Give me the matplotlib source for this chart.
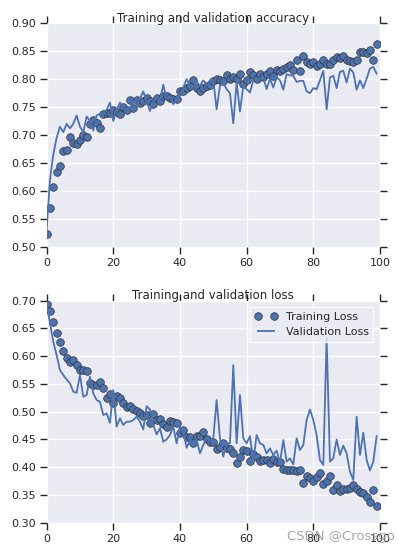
import matplotlib
matplotlib.use('Agg')
import matplotlib.pyplot as plt

# 数据: 每个 epoch 的训练/验证准确率和损失
epochs = list(range(100))

acc = [0.522, 0.570, 0.606, 0.633, 0.644, 0.671, 0.674, 0.697, 0.685, 0.684,
       0.691, 0.700, 0.696, 0.719, 0.727, 0.721, 0.712, 0.738, 0.739, 0.739,
       0.745, 0.742, 0.737, 0.751, 0.745, 0.763, 0.749, 0.763, 0.757, 0.761,
       0.767, 0.760, 0.756, 0.766, 0.760, 0.769, 0.770, 0.766, 0.764, 0.764,
       0.778, 0.778, 0.785, 0.788, 0.798, 0.785, 0.778, 0.784, 0.788, 0.790,
       0.797, 0.801, 0.798, 0.797, 0.807, 0.801, 0.804, 0.800, 0.809, 0.792,
       0.798, 0.812, 0.807, 0.801, 0.809, 0.803, 0.809, 0.815, 0.806, 0.816,
       0.815, 0.819, 0.822, 0.825, 0.816, 0.834, 0.815, 0.841, 0.831, 0.827,
       0.831, 0.824, 0.827, 0.834, 0.827, 0.827, 0.834, 0.839, 0.837, 0.841,
       0.834, 0.833, 0.831, 0.835, 0.848, 0.849, 0.846, 0.852, 0.835, 0.863]

val_acc = [0.530, 0.620, 0.665, 0.695, 0.715, 0.705, 0.720, 0.712, 0.720, 0.735,
           0.715, 0.705, 0.733, 0.725, 0.708, 0.735, 0.738, 0.738, 0.745, 0.758,
           0.725, 0.745, 0.758, 0.750, 0.745, 0.748, 0.760, 0.755, 0.765, 0.778,
           0.760, 0.743, 0.760, 0.768, 0.762, 0.790, 0.765, 0.770, 0.755, 0.765,
           0.772, 0.785, 0.800, 0.790, 0.785, 0.795, 0.788, 0.798, 0.790, 0.798,
           0.798, 0.746, 0.788, 0.794, 0.782, 0.775, 0.721, 0.794, 0.742, 0.788,
           0.782, 0.776, 0.798, 0.801, 0.801, 0.803, 0.782, 0.801, 0.785, 0.803,
           0.798, 0.781, 0.809, 0.807, 0.806, 0.795, 0.797, 0.797, 0.778, 0.775,
           0.784, 0.782, 0.798, 0.815, 0.746, 0.803, 0.806, 0.784, 0.813, 0.815,
           0.794, 0.819, 0.812, 0.781, 0.798, 0.784, 0.801, 0.819, 0.822, 0.810]

loss = [0.694, 0.682, 0.662, 0.641, 0.625, 0.609, 0.596, 0.589, 0.594, 0.584,
        0.576, 0.576, 0.573, 0.552, 0.548, 0.548, 0.554, 0.542, 0.524, 0.531,
        0.515, 0.529, 0.524, 0.515, 0.508, 0.510, 0.504, 0.502, 0.498, 0.492,
        0.494, 0.479, 0.495, 0.485, 0.486, 0.478, 0.473, 0.483, 0.482, 0.479,
        0.462, 0.467, 0.455, 0.455, 0.443, 0.456, 0.456, 0.463, 0.450, 0.446,
        0.445, 0.432, 0.437, 0.443, 0.434, 0.432, 0.426, 0.408, 0.418, 0.431,
        0.429, 0.411, 0.424, 0.419, 0.411, 0.413, 0.413, 0.407, 0.414, 0.409,
        0.409, 0.396, 0.395, 0.395, 0.395, 0.393, 0.395, 0.371, 0.384, 0.380,
        0.375, 0.383, 0.390, 0.370, 0.376, 0.384, 0.359, 0.368, 0.358, 0.360,
        0.360, 0.362, 0.368, 0.360, 0.356, 0.354, 0.347, 0.338, 0.359, 0.330]

val_loss = [0.695, 0.659, 0.626, 0.602, 0.575, 0.566, 0.558, 0.551, 0.536, 0.534,
            0.566, 0.527, 0.530, 0.563, 0.533, 0.521, 0.518, 0.494, 0.497, 0.480,
            0.539, 0.473, 0.488, 0.476, 0.482, 0.482, 0.485, 0.491, 0.482, 0.468,
            0.510, 0.504, 0.476, 0.459, 0.470, 0.446, 0.450, 0.458, 0.473, 0.443,
            0.473, 0.464, 0.435, 0.449, 0.446, 0.450, 0.425, 0.440, 0.452, 0.449,
            0.452, 0.521, 0.452, 0.419, 0.443, 0.443, 0.584, 0.443, 0.530, 0.452,
            0.443, 0.456, 0.410, 0.458, 0.443, 0.440, 0.425, 0.434, 0.422, 0.430,
            0.408, 0.449, 0.410, 0.416, 0.405, 0.452, 0.431, 0.440, 0.485, 0.504,
            0.485, 0.458, 0.413, 0.404, 0.632, 0.410, 0.416, 0.450, 0.422, 0.439,
            0.425, 0.392, 0.377, 0.491, 0.422, 0.462, 0.413, 0.394, 0.410, 0.456]

acc_ticks = [0.50, 0.55, 0.60, 0.65, 0.70, 0.75, 0.80, 0.85, 0.90]
loss_ticks = [0.30, 0.35, 0.40, 0.45, 0.50, 0.55, 0.60, 0.65, 0.70]
x_ticks = [0, 20, 40, 60, 80, 100]

BLUE = '#4C72B0'
BG = '#EAEAF2'
DARK = '#262626'


# 老版 seaborn darkgrid 的样子
def style_axes(ax, yticks):
    ax.set_facecolor(BG)
    for s in ax.spines.values():
        s.set_visible(False)
    ax.grid(True, color='white', linewidth=1.0)
    ax.set_axisbelow(True)
    ax.set_xlim(0, 100)
    ax.set_xticks(x_ticks)
    ax.set_ylim(yticks[0], yticks[-1])
    ax.set_yticks(yticks)
    ax.set_yticklabels(['%.2f' % t for t in yticks])
    ax.tick_params(direction='out', length=5, width=1, color=DARK,
                   labelcolor=DARK, labelsize=8, top=True, right=True,
                   pad=3)


fig = plt.figure(figsize=(4.09, 5.55), dpi=100)

ax1 = fig.add_axes([0.114, 0.5555, 0.815, 0.4025])
style_axes(ax1, acc_ticks)
ax1.plot(epochs, acc, 'o', color=BLUE, markersize=5.5, markeredgecolor='#333333',
         markeredgewidth=0.5, label='Training acc')
ax1.plot(epochs, val_acc, '-', color=BLUE, linewidth=1.3, label='Validation acc')
ax1.set_title('Training and validation accuracy', fontsize=8.5, color=DARK, pad=1)

ax2 = fig.add_axes([0.114, 0.0582, 0.815, 0.4])
style_axes(ax2, loss_ticks)
ax2.plot(epochs, loss, 'o', color=BLUE, markersize=5.5, markeredgecolor='#333333',
         markeredgewidth=0.5, label='Training Loss')
ax2.plot(epochs, val_loss, '-', color=BLUE, linewidth=1.3, label='Validation Loss')
ax2.set_title('Training and validation loss', fontsize=8.5, color=DARK, pad=1)
leg = ax2.legend(loc='upper right', numpoints=2, fontsize=8, frameon=True,
                 fancybox=False, borderaxespad=0.6)
leg.get_frame().set_facecolor(BG)
leg.get_frame().set_edgecolor('white')
leg.get_frame().set_linewidth(1.0)
for t in leg.get_texts():
    t.set_color(DARK)

# 水印
fig.text(0.965, 0.022, 'CSDN @Crossgo', fontsize=9.5, color='#999999', alpha=0.85,
         ha='right', va='bottom')

fig.savefig('out.png', dpi=100)
